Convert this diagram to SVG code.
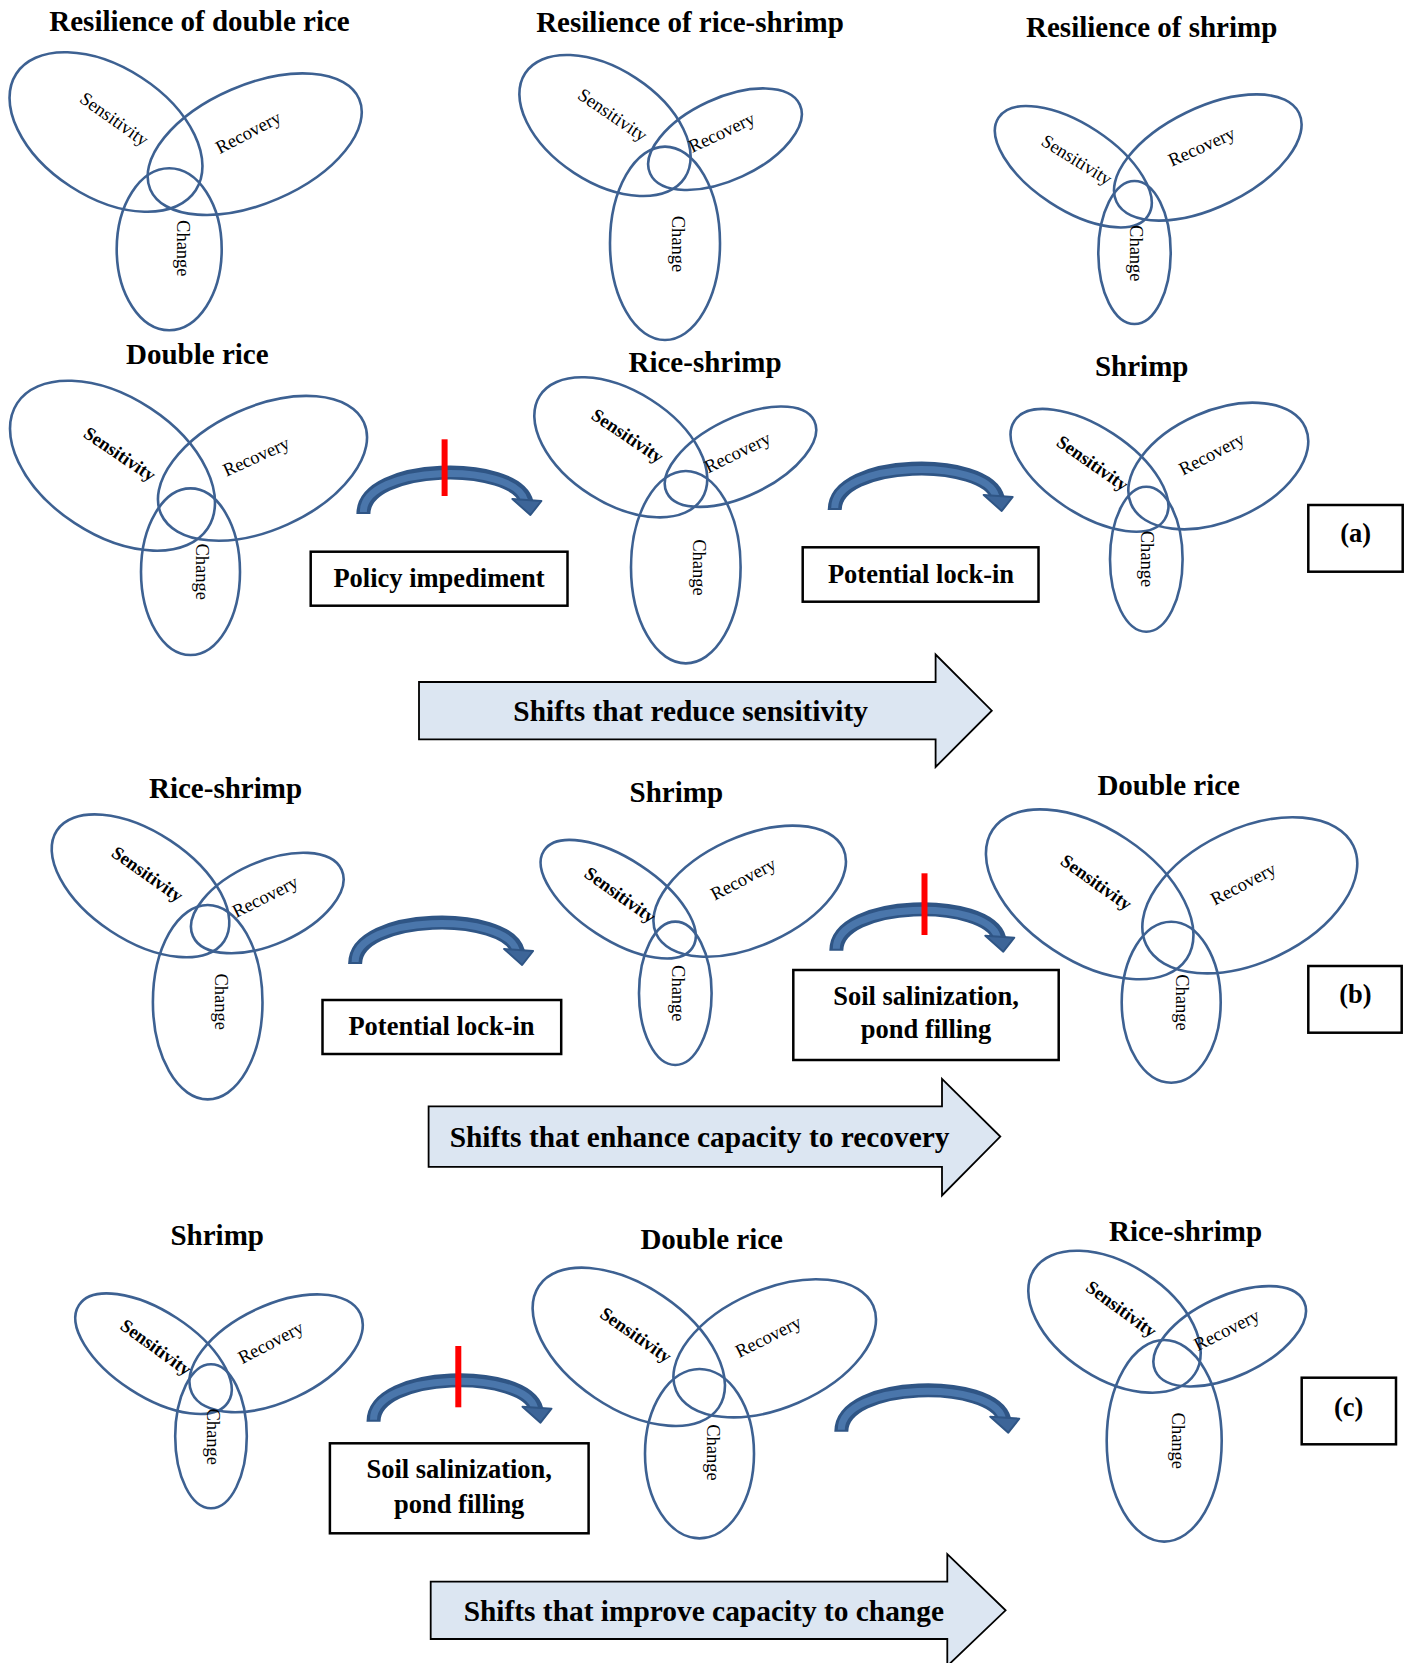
<svg xmlns="http://www.w3.org/2000/svg" xmlns:xlink="http://www.w3.org/1999/xlink" width="1413" height="1663" viewBox="0 0 1413 1663">
<style>
.e{fill:none;stroke:#3d6192;stroke-width:2.6}
.t{font-family:"Liberation Serif","Times New Roman",serif;font-weight:bold;font-size:29px;text-anchor:middle;fill:#000}
.l{font-family:"Liberation Serif","Times New Roman",serif;font-size:18.5px;text-anchor:middle;fill:#000}
.lb{font-weight:bold}
.box{fill:#fff;stroke:#000;stroke-width:2.5}
.bt{font-family:"Liberation Serif","Times New Roman",serif;font-weight:bold;font-size:26.5px;text-anchor:middle;fill:#000}
.big{fill:#dce6f2;stroke:#000;stroke-width:1.8}
.bigt{font-family:"Liberation Serif","Times New Roman",serif;font-weight:bold;font-size:29.4px;text-anchor:middle;fill:#000}
.red{stroke:#ff0000;stroke-width:6}
.sh1{fill:none;stroke:#2f5585;stroke-width:14}
.sh2{fill:none;stroke:#4a76ab;stroke-width:7}
.hd{fill:#3d6598;stroke:#2f5585;stroke-width:2;stroke-linejoin:round}
</style>
<defs>
<g id="carrow">
<path class="sh1" d="M8 49 C8 -3 160 -5 171 37"/>
<path class="sh2" d="M8 47 C8 -1 158 -3 169 35"/>
<path class="hd" d="M157 34 L186 36 L175 50 Z"/>
</g>
</defs>
<rect width="1413" height="1663" fill="#fff"/>

<g id="connectors">
<use xlink:href="#carrow" transform="translate(355.4 465)"/>
<line class="red" x1="444.6" y1="439.3" x2="444.6" y2="496"/>
<use xlink:href="#carrow" transform="translate(826.7 461)"/>
<use xlink:href="#carrow" transform="translate(347.1 915)"/>
<use xlink:href="#carrow" transform="translate(828.3 901.7)"/>
<line class="red" x1="924.5" y1="873.3" x2="924.5" y2="935"/>
<use xlink:href="#carrow" transform="translate(365.5 1372.7)"/>
<line class="red" x1="458.3" y1="1346" x2="458.3" y2="1407.3"/>
<use xlink:href="#carrow" transform="translate(833.3 1382.7)"/>
<g id="shift-a">
<polygon class="big" points="419,682 935.6,682 935.6,654.5 991.8,710.7 935.6,767 935.6,739.4 419,739.4"/>
<text class="bigt" x="690.6" y="721">Shifts that reduce sensitivity</text>
</g>
<g id="shift-b">
<polygon class="big" points="428.6,1106.4 942,1106.4 942,1078.8 1000.3,1136.6 942,1195.5 942,1166.9 428.6,1166.9"/>
<text class="bigt" x="699.6" y="1146.5">Shifts that enhance capacity to recovery</text>
</g>
<g id="shift-c">
<polygon class="big" points="430.7,1581.6 947.3,1581.6 947.3,1554 1005.6,1610.3 947.3,1666 947.3,1639 430.7,1639"/>
<text class="bigt" x="703.8" y="1621">Shifts that improve capacity to change</text>
</g>
</g>

<g id="res-double-rice">
<text class="t" x="199.5" y="31">Resilience of double rice</text>
<ellipse class="e" cx="106" cy="132" rx="107" ry="65" transform="rotate(33 106 132)"/>
<ellipse class="e" cx="254.7" cy="144.2" rx="113.8" ry="59.3" transform="rotate(-23.4 254.7 144.2)"/>
<ellipse class="e" cx="169.2" cy="249.2" rx="52.5" ry="81"/>
<text class="l" y="6" transform="translate(114.2 119.2) rotate(35.3)">Sensitivity</text>
<text class="l" y="6" transform="translate(248.3 132.5) rotate(-27.7)">Recovery</text>
<text class="l" y="6" transform="translate(182.5 248.3) rotate(90)">Change</text>
</g>

<g id="res-rice-shrimp">
<text class="t" x="690" y="32.3">Resilience of rice-shrimp</text>
<ellipse class="e" cx="605" cy="125.5" rx="95.4" ry="56.6" transform="rotate(33.2 605 125.5)"/>
<ellipse class="e" cx="725" cy="139.2" rx="82.4" ry="41" transform="rotate(-24.8 725 139.2)"/>
<ellipse class="e" cx="665" cy="243.3" rx="55" ry="96.7"/>
<text class="l" y="6" transform="translate(612.5 115) rotate(34.3)">Sensitivity</text>
<text class="l" y="6" transform="translate(721.7 132.5) rotate(-25.4)">Recovery</text>
<text class="l" y="6" transform="translate(678.3 244) rotate(90)">Change</text>
</g>

<g id="res-shrimp">
<text class="t" x="1151.7" y="37.3">Resilience of shrimp</text>
<ellipse class="e" cx="1073.3" cy="166.7" rx="89.4" ry="42.7" transform="rotate(33.3 1073.3 166.7)"/>
<ellipse class="e" cx="1207.8" cy="157.5" rx="101.5" ry="49.8" transform="rotate(-26 1207.8 157.5)"/>
<ellipse class="e" cx="1134.5" cy="252.5" rx="36.2" ry="71.5"/>
<text class="l" y="6" transform="translate(1076.7 160) rotate(31.8)">Sensitivity</text>
<text class="l" y="6" transform="translate(1201.7 146.7) rotate(-24.2)">Recovery</text>
<text class="l" y="6" transform="translate(1135.8 253.3) rotate(90)">Change</text>
</g>

<g id="a-double-rice">
<text class="t" x="197.3" y="364">Double rice</text>
<ellipse class="e" cx="112.5" cy="465.7" rx="114" ry="68.8" transform="rotate(33.3 112.5 465.7)"/>
<ellipse class="e" cx="262.5" cy="468.3" rx="111.3" ry="61.5" transform="rotate(-24.3 262.5 468.3)"/>
<ellipse class="e" cx="190.5" cy="571.7" rx="49.5" ry="83.3"/>
<text class="l lb" y="6" transform="translate(119.6 454.2) rotate(34)">Sensitivity</text>
<text class="l" y="6" transform="translate(256.2 456.7) rotate(-24.4)">Recovery</text>
<text class="l" y="6" transform="translate(201.8 571.7) rotate(90)">Change</text>
</g>

<g id="a-rice-shrimp">
<text class="t" x="705" y="371.7">Rice-shrimp</text>
<ellipse class="e" cx="620.8" cy="447.3" rx="96" ry="56.3" transform="rotate(32.4 620.8 447.3)"/>
<ellipse class="e" cx="740.5" cy="456.7" rx="82" ry="39" transform="rotate(-26 740.5 456.7)"/>
<ellipse class="e" cx="685.8" cy="567.2" rx="54.8" ry="96.2"/>
<text class="l lb" y="6" transform="translate(627.5 436) rotate(34)">Sensitivity</text>
<text class="l" y="6" transform="translate(737.5 452.5) rotate(-25.9)">Recovery</text>
<text class="l" y="6" transform="translate(699.2 567.5) rotate(90)">Change</text>
</g>

<g id="a-shrimp">
<text class="t" x="1141.7" y="376">Shrimp</text>
<ellipse class="e" cx="1089.5" cy="470.3" rx="89.8" ry="43.6" transform="rotate(33.3 1089.5 470.3)"/>
<ellipse class="e" cx="1218.3" cy="466" rx="95.2" ry="55.1" transform="rotate(-23.6 1218.3 466)"/>
<ellipse class="e" cx="1146.3" cy="559.2" rx="36.3" ry="72.5"/>
<text class="l lb" y="6" transform="translate(1092.5 463.3) rotate(34.9)">Sensitivity</text>
<text class="l" y="6" transform="translate(1211.7 454) rotate(-27.7)">Recovery</text>
<text class="l" y="6" transform="translate(1147.3 559) rotate(90)">Change</text>
</g>

<g id="box-policy">
<rect class="box" x="310.7" y="551.7" width="256.8" height="54"/>
<text class="bt" x="439" y="586.7">Policy impediment</text>
</g>
<g id="box-lockin-a">
<rect class="box" x="802.7" y="547.3" width="235.8" height="54.4"/>
<text class="bt" x="921" y="583.3">Potential lock-in</text>
</g>
<g id="label-a">
<rect class="box" x="1308.3" y="505" width="94.4" height="66.7"/>
<text class="bt" x="1355.7" y="542.3">(a)</text>
</g>

<g id="b-rice-shrimp">
<text class="t" x="225.5" y="798.3">Rice-shrimp</text>
<ellipse class="e" cx="140.5" cy="885.8" rx="100.3" ry="54.2" transform="rotate(33.5 140.5 885.8)"/>
<ellipse class="e" cx="267.3" cy="903" rx="81.4" ry="41.4" transform="rotate(-24 267.3 903)"/>
<ellipse class="e" cx="207.7" cy="1002.2" rx="54.8" ry="97.2"/>
<text class="l lb" y="6" transform="translate(147.3 874.2) rotate(35.2)">Sensitivity</text>
<text class="l" y="6" transform="translate(265.2 896.7) rotate(-26.7)">Recovery</text>
<text class="l" y="6" transform="translate(220.5 1001.7) rotate(90)">Change</text>
</g>

<g id="b-shrimp">
<text class="t" x="676.3" y="801.7">Shrimp</text>
<ellipse class="e" cx="618.2" cy="899.2" rx="88.7" ry="40.5" transform="rotate(33.2 618.2 899.2)"/>
<ellipse class="e" cx="749.7" cy="891.2" rx="102.8" ry="54.7" transform="rotate(-24.5 749.7 891.2)"/>
<ellipse class="e" cx="675.3" cy="993.3" rx="36.3" ry="71.7"/>
<text class="l lb" y="6" transform="translate(620 895) rotate(35.5)">Sensitivity</text>
<text class="l" y="6" transform="translate(743.3 879) rotate(-27.7)">Recovery</text>
<text class="l" y="6" transform="translate(677.5 993.3) rotate(90)">Change</text>
</g>

<g id="b-double-rice">
<text class="t" x="1168.7" y="795">Double rice</text>
<ellipse class="e" cx="1089.7" cy="894.3" rx="116.5" ry="66.4" transform="rotate(33.6 1089.7 894.3)"/>
<ellipse class="e" cx="1249.8" cy="895.3" rx="114.8" ry="66.8" transform="rotate(-25.6 1249.8 895.3)"/>
<ellipse class="e" cx="1171.2" cy="1002.2" rx="49.5" ry="80.5"/>
<text class="l lb" y="6" transform="translate(1096.3 882.5) rotate(35.4)">Sensitivity</text>
<text class="l" y="6" transform="translate(1243.3 884) rotate(-27.7)">Recovery</text>
<text class="l" y="6" transform="translate(1181.7 1002.5) rotate(90)">Change</text>
</g>

<g id="box-lockin-b">
<rect class="box" x="322.5" y="1000" width="238.7" height="54"/>
<text class="bt" x="441.5" y="1035">Potential lock-in</text>
</g>
<g id="box-soil-b">
<rect class="box" x="793.3" y="970" width="265.4" height="90"/>
<text class="bt" x="926" y="1005">Soil salinization,</text>
<text class="bt" x="926" y="1038.3">pond filling</text>
</g>
<g id="label-b">
<rect class="box" x="1308.3" y="966" width="93.4" height="66.7"/>
<text class="bt" x="1355.5" y="1003.3">(b)</text>
</g>

<g id="c-shrimp">
<text class="t" x="217.2" y="1245">Shrimp</text>
<ellipse class="e" cx="153.5" cy="1353.7" rx="89" ry="42.6" transform="rotate(33.1 153.5 1353.7)"/>
<ellipse class="e" cx="276.1" cy="1353.3" rx="93.1" ry="48.2" transform="rotate(-25.2 276.1 1353.3)"/>
<ellipse class="e" cx="211" cy="1436.3" rx="35.8" ry="72"/>
<text class="l lb" y="6" transform="translate(155.9 1347.5) rotate(36)">Sensitivity</text>
<text class="l" y="6" transform="translate(270.8 1342.5) rotate(-27.6)">Recovery</text>
<text class="l" y="6" transform="translate(213.3 1436.7) rotate(90)">Change</text>
</g>

<g id="c-double-rice">
<text class="t" x="711.7" y="1249.3">Double rice</text>
<ellipse class="e" cx="628.8" cy="1346.8" rx="108.5" ry="61.2" transform="rotate(34.1 628.8 1346.8)"/>
<ellipse class="e" cx="774.7" cy="1348.3" rx="107.3" ry="59.3" transform="rotate(-23.3 774.7 1348.3)"/>
<ellipse class="e" cx="699.5" cy="1453.7" rx="54.5" ry="84.7"/>
<text class="l lb" y="6" transform="translate(635.8 1335) rotate(34.9)">Sensitivity</text>
<text class="l" y="6" transform="translate(768.3 1336.7) rotate(-26.5)">Recovery</text>
<text class="l" y="6" transform="translate(713.3 1452.5) rotate(90)">Change</text>
</g>

<g id="c-rice-shrimp">
<text class="t" x="1185.5" y="1240.7">Rice-shrimp</text>
<ellipse class="e" cx="1114.5" cy="1321.7" rx="95.8" ry="57.4" transform="rotate(33 1114.5 1321.7)"/>
<ellipse class="e" cx="1229.7" cy="1336.3" rx="82" ry="40" transform="rotate(-25 1229.7 1336.3)"/>
<ellipse class="e" cx="1164.2" cy="1440.8" rx="57.5" ry="100.8"/>
<text class="l lb" y="6" transform="translate(1121.3 1309.2) rotate(36.2)">Sensitivity</text>
<text class="l" y="6" transform="translate(1226.7 1330) rotate(-26.6)">Recovery</text>
<text class="l" y="6" transform="translate(1178.3 1440.8) rotate(90)">Change</text>
</g>

<g id="box-soil-c">
<rect class="box" x="329.9" y="1443.3" width="258.7" height="90"/>
<text class="bt" x="459.2" y="1478.3">Soil salinization,</text>
<text class="bt" x="459.2" y="1513.3">pond filling</text>
</g>
<g id="label-c">
<rect class="box" x="1301.7" y="1377.7" width="94.3" height="66.6"/>
<text class="bt" x="1348.7" y="1416">(c)</text>
</g>
</svg>
